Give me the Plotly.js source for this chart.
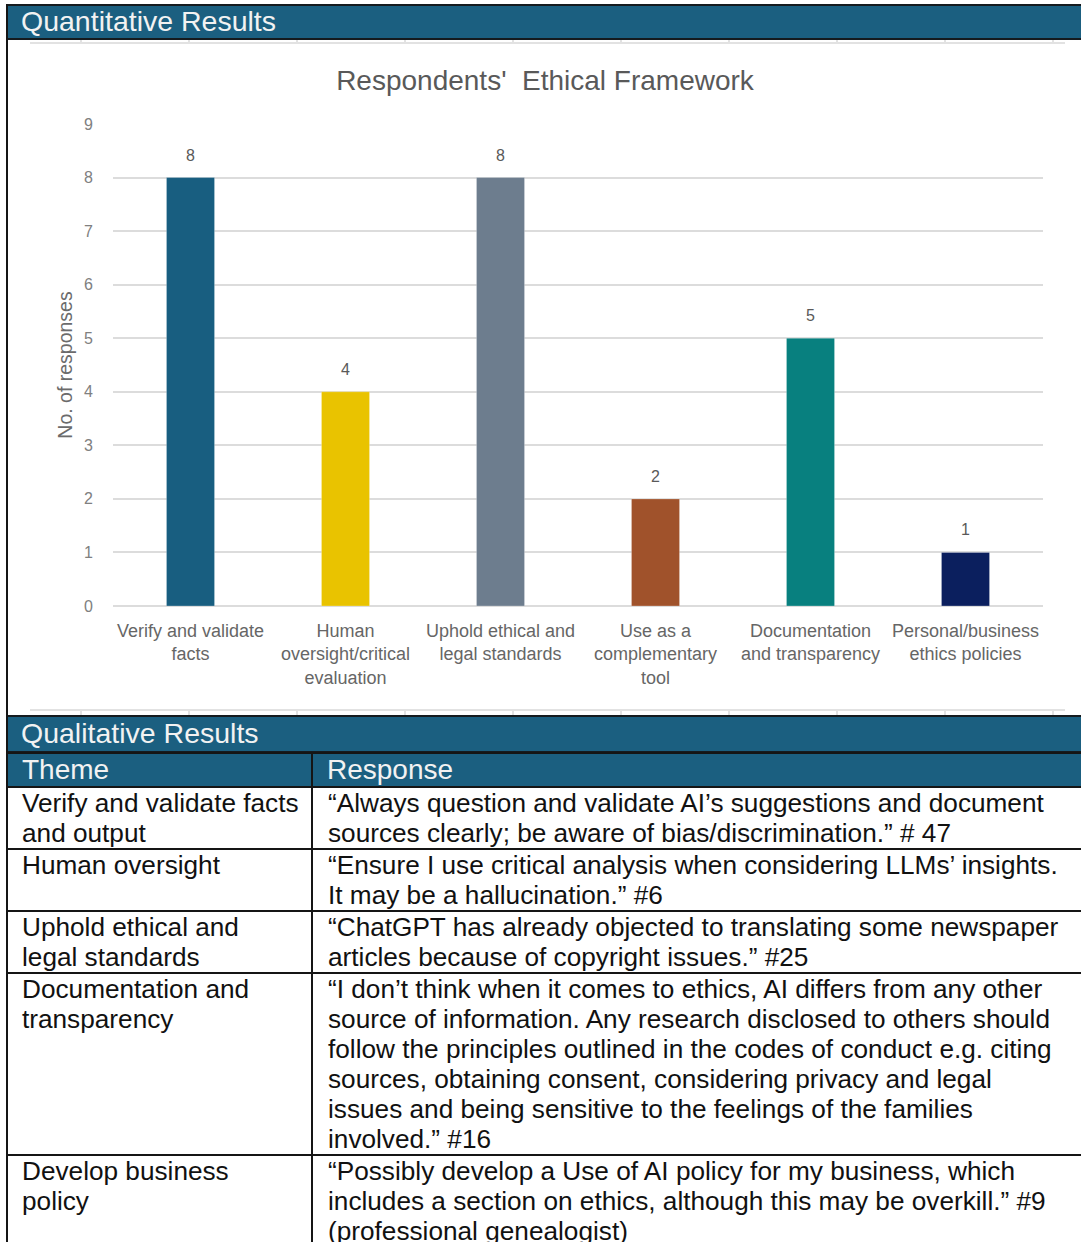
<!DOCTYPE html>
<html>
<head>
<meta charset="utf-8">
<script src="https://cdn.plot.ly/plotly-3.0.1.min.js"></script>
<style>
  html, body { margin: 0; padding: 0; background: #ffffff; }
  body { width: 1081px; height: 1242px; overflow: hidden; position: relative;
         font-family: "Liberation Sans", Arial, sans-serif; }
  #chart { position: absolute; left: 0; top: 0; width: 1081px; height: 716px; z-index: 0; }
  .band { position: absolute; left: 6px; width: 1090px; box-sizing: border-box;
          background: #1b5f80; color: #f2f2f2; border-top: 2px solid #151b1f;
          border-bottom: 2px solid #151b1f; font-size: 28.5px; padding-left: 15px; z-index: 2; }
  .frame-left { position: absolute; left: 6px; top: 4px; width: 2px; height: 1240px;
                background: #151515; z-index: 3; }
  .sheet-line { position: absolute; left: 30px; width: 1035px; height: 2px; background: #e2e2e2; z-index: 1; }
  .sheet-tick { position: absolute; width: 2px; height: 5px; background: #e2e2e2; z-index: 1; }
  table.qual { position: absolute; left: 6px; top: 752px; width: 1100px; border-collapse: collapse;
               table-layout: fixed; z-index: 2; }
  table.qual td, table.qual th { border: 2px solid #151515; vertical-align: top; padding: 0 0 0 14px;
               font-weight: normal; text-align: left; white-space: nowrap; overflow: hidden; }
  table.qual th { background: #1b5f80; color: #f2f2f2; font-size: 28px; line-height: 32px; height: 32px; }
  table.qual td { font-size: 26.2px; line-height: 30px; color: #111; }
  table.qual td.resp { padding-left: 15px; }
</style>
</head>
<body>
<div id="chart"></div>
<div class="frame-left"></div>
<div class="band" style="top:4px;height:36px;line-height:31px;">Quantitative Results</div>
<div class="band" style="top:715px;height:38px;line-height:33px;">Qualitative Results</div>
<div id="sheet"></div>
<table class="qual" id="qual">
  <colgroup><col style="width:305px"><col></colgroup>
  <thead><tr><th>Theme</th><th class="resp">Response</th></tr></thead>
  <tbody id="qualBody"></tbody>
</table>
<script>
// Ethical framework themes and number of respondents mentioning each
const categories = [
  'Verify and validate<br>facts',
  'Human<br>oversight/critical<br>evaluation',
  'Uphold ethical and<br>legal standards',
  'Use as a<br>complementary<br>tool',
  'Documentation<br>and transparency',
  'Personal/business<br>ethics policies'
];
const responses = [8, 4, 8, 2, 5, 1];
const barColors = ['#185e80', '#e9c300', '#6d7d8e', '#a0522b', '#08807f', '#0b1f5e'];
const yTicks = [0, 1, 2, 3, 4, 5, 6, 7, 8, 9];

// Qualitative table content
const themes = [
  'Verify and validate facts<br>and output',
  'Human oversight',
  'Uphold ethical and<br>legal standards',
  'Documentation and<br>transparency',
  'Develop business<br>policy'
];
const quotes = [
  '\u201CAlways question and validate AI\u2019s suggestions and document<br>sources clearly; be aware of bias/discrimination.\u201D # 47',
  '\u201CEnsure I use critical analysis when considering LLMs\u2019 insights.<br>It may be a hallucination.\u201D #6',
  '\u201CChatGPT has already objected to translating some newspaper<br>articles because of copyright issues.\u201D #25',
  '\u201CI don\u2019t think when it comes to ethics, AI differs from any other<br>source of information. Any research disclosed to others should<br>follow the principles outlined in the codes of conduct e.g. citing<br>sources, obtaining consent, considering privacy and legal<br>issues and being sensitive to the feelings of the families<br>involved.\u201D #16',
  '\u201CPossibly develop a Use of AI policy for my business, which<br>includes a section on ethics, although this may be overkill.\u201D #9<br>(professional genealogist)'
];

const FONT = '"Liberation Sans", Arial, sans-serif';

const trace = {
  type: 'bar',
  x: categories,
  y: responses,
  width: 0.31,
  marker: { color: barColors, line: { color: 'rgba(255,255,255,0.25)', width: 1 } },
  hoverinfo: 'skip'
};

const valueLabels = responses.map((v, i) => ({
  x: categories[i], y: v, xref: 'x', yref: 'y',
  text: String(v), showarrow: false, yanchor: 'bottom', yshift: 12,
  font: { family: FONT, size: 16, color: '#595959' }
}));

const layout = {
  width: 1081, height: 716,
  margin: { l: 113, r: 38, t: 124, b: 110 },
  paper_bgcolor: '#ffffff', plot_bgcolor: '#ffffff',
  showlegend: false,
  title: {
    text: 'Respondents\'\u00a0 Ethical Framework',
    font: { family: FONT, size: 28, color: '#595959' },
    x: 545 / 1081, xref: 'container', xanchor: 'center',
    y: 1 - 80 / 716, yref: 'container', yanchor: 'middle'
  },
  xaxis: {
    type: 'category',
    showgrid: false, showline: false, zeroline: false,
    tickfont: { family: FONT, size: 18, color: '#666666' },
    ticks: '', ticklabelstandoff: 12, fixedrange: true
  },
  yaxis: {
    range: [0, 9], tickvals: yTicks, ticktext: yTicks.map(String),
    showgrid: true, gridcolor: '#dcdcdc', gridwidth: 2,
    zeroline: true, zerolinecolor: '#dcdcdc', zerolinewidth: 2,
    showline: false, ticks: '', ticklabelstandoff: 19,
    tickfont: { family: FONT, size: 16, color: '#808080' },
    title: { text: 'No. of responses', standoff: 6,
             font: { family: FONT, size: 19.5, color: '#6b6b6b' } },
    fixedrange: true
  },
  annotations: valueLabels
};

Plotly.newPlot('chart', [trace], layout, { displayModeBar: false, staticPlot: true });

// Light spreadsheet cell borders showing around the chart
const sheet = document.getElementById('sheet');
function addSheetRow(lineTop, tickTop) {
  const line = document.createElement('div');
  line.className = 'sheet-line';
  line.style.top = lineTop + 'px';
  sheet.appendChild(line);
  for (let k = 0; k < 10; k++) {
    const t = document.createElement('div');
    t.className = 'sheet-tick';
    t.style.left = (80 + 108 * k) + 'px';
    t.style.top = tickTop + 'px';
    sheet.appendChild(t);
  }
}
addSheetRow(42, 39);
addSheetRow(709, 710);

// Build the qualitative results rows
const body = document.getElementById('qualBody');
const rowHeights = [58, 58, 59, 180, 120];
themes.forEach((th, i) => {
  const tr = document.createElement('tr');
  const a = document.createElement('td');
  a.innerHTML = th;
  const b = document.createElement('td');
  b.className = 'resp';
  b.innerHTML = quotes[i];
  a.style.height = rowHeights[i] + 'px';
  tr.appendChild(a); tr.appendChild(b);
  body.appendChild(tr);
});
</script>
</body>
</html>
